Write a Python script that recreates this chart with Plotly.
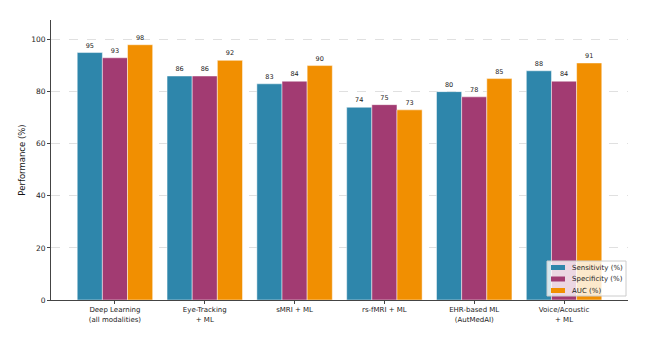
import plotly.graph_objects as go

categories = ["Deep Learning<br>(all modalities)", "Eye-Tracking<br>+ ML", "sMRI + ML",
              "rs-fMRI + ML", "EHR-based ML<br>(AutMedAI)", "Voice/Acoustic<br>+ ML"]
sensitivity = [95, 86, 83, 74, 80, 88]
specificity = [93, 86, 84, 75, 78, 84]
auc = [98, 92, 90, 73, 85, 91]

series = [("Sensitivity (%)", sensitivity, "#2E86AB"),
          ("Specificity (%)", specificity, "#A23B72"),
          ("AUC (%)", auc, "#F18F01")]

FONT = "DejaVu Sans"
fig = go.Figure()
for name, vals, col in series:
    fig.add_trace(go.Bar(
        x=list(range(len(categories))), y=vals, name=name,
        marker=dict(color=col, line=dict(color="rgba(255,255,255,0.6)", width=0.8)),
        text=[str(v) for v in vals], textposition="outside",
        textfont=dict(size=6.5, color="#222", family=FONT),
        constraintext="none", cliponaxis=False, showlegend=False,
    ))

# custom legend (matplotlib-like compact legend, lower right)
L, R, T, B = 51, 628, 20, 300
px = lambda v: (v - L) / (R - L)
py = lambda v: (B - v) / (B - T)
shapes = [dict(type="rect", xref="paper", yref="paper", x0=px(547), x1=px(626), y0=py(296), y1=py(261),
               fillcolor="rgba(255,255,255,0.8)", line=dict(color="#cccccc", width=1), layer="above")]
annotations = []
for i, (name, vals, col) in enumerate(series):
    cy = 267.5 + i * 11.5
    shapes.append(dict(type="rect", xref="paper", yref="paper", x0=px(551), x1=px(565),
                       y0=py(cy + 2.5), y1=py(cy - 2.5), fillcolor=col, line=dict(width=0), layer="above"))
    annotations.append(dict(xref="paper", yref="paper", x=px(570), y=py(cy), text=name, showarrow=False,
                            xanchor="left", yanchor="middle", font=dict(size=7, family=FONT, color="#222")))

fig.update_layout(
    width=646, height=342,
    margin=dict(l=L, r=646 - R, t=T, b=342 - B),
    paper_bgcolor="white", plot_bgcolor="white",
    barmode="group", bargap=0.16, bargroupgap=0,
    font=dict(family=FONT, color="#333"),
    showlegend=False, shapes=shapes, annotations=annotations,
)
fig.update_xaxes(
    range=[-0.712, 5.712], tickmode="array", tickvals=list(range(len(categories))),
    ticktext=categories, tickfont=dict(size=7, family=FONT, color="#222"),
    showline=True, linecolor="#444", linewidth=1, ticks="outside", ticklen=3,
    tickcolor="#444", showgrid=False, zeroline=False,
)
fig.update_yaxes(
    range=[0, 107.5], tickvals=[0, 20, 40, 60, 80, 100],
    tickfont=dict(size=7.5, family=FONT, color="#222"),
    title=dict(text="Performance (%)", font=dict(size=8.5, family=FONT, color="#111"), standoff=4),
    showline=True, linecolor="#444", linewidth=1, ticks="outside", ticklen=3, tickcolor="#444",
    showgrid=True, gridcolor="#e0e0e0", griddash="dash", gridwidth=0.8, zeroline=False,
)
fig.write_html("out.html")
